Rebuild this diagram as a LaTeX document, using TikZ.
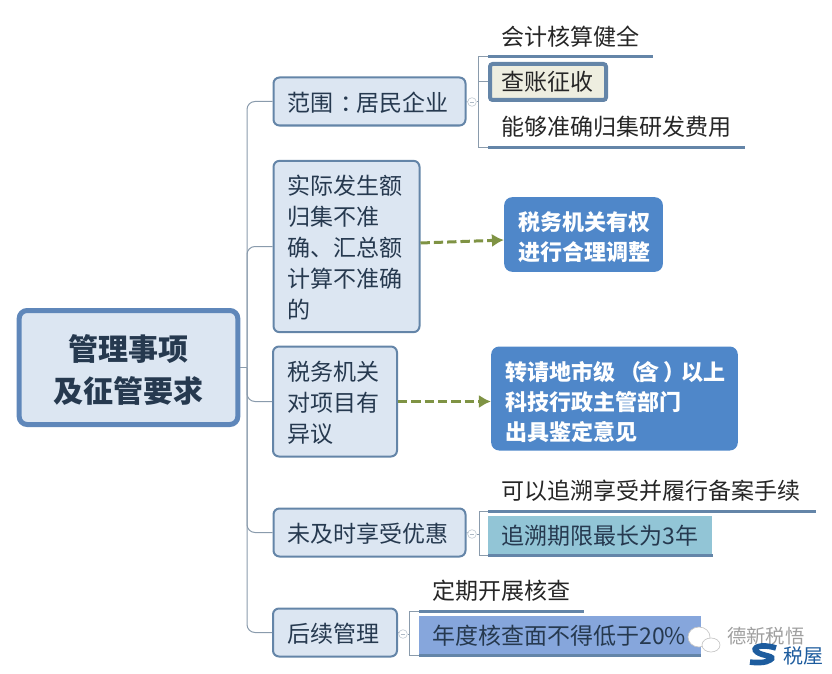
\documentclass[tikz,border=0pt]{standalone}
\usepackage{fontspec}
\setmainfont{Noto Sans CJK SC}
\usetikzlibrary{%
  arrows.meta,%
  positioning,%
  calc%
}
\definecolor{rulecol}{HTML}{6485A8}
\definecolor{rootcol}{HTML}{5F87BA}
\definecolor{topicfill}{HTML}{DCE6F2}
\definecolor{topictext}{HTML}{26394F}
\definecolor{notefill}{HTML}{4F87C9}
\definecolor{arrowcol}{HTML}{7F9344}
\definecolor{branchcol}{HTML}{8A9BAC}
\definecolor{logocol}{HTML}{1D5C9E}
\definecolor{checkfill}{HTML}{EEEEE0}
\definecolor{limitfill}{HTML}{92C5D6}
\definecolor{yearfill}{HTML}{86A6DC}

\begin{document}
\begin{tikzpicture}[
  x=0.75pt, y=-0.75pt, line cap=butt,
  every node/.style={font=\fontsize{17.25}{23.25}\selectfont, inner ysep=0pt},
  drop/.style={execute at begin node={\rule{0pt}{#1}}},
  rootbox/.style={draw=rootcol, line width=3.75pt, fill=topicfill, rounded corners=6pt, align=center,
    text width=140pt, inner xsep=12pt, minimum height=85.5pt, text=topictext, drop=22.8pt,
    font=\fontsize{22.5}{31.5}\selectfont\bfseries},
  topic/.style={draw=rulecol, line width=1.5pt, fill=topicfill, rounded corners=4.5pt, align=left,
    inner xsep=10.5pt, text=topictext, drop=16.7pt},
  notebox/.style={fill=notefill, rounded corners=6pt, align=left, inner xsep=10.5pt, text=white,
    font=\fontsize{16.5}{22.5}\selectfont\bfseries},
  leaf/.style={anchor=south west, inner xsep=9.75pt, align=left, minimum height=30pt, text=black!85},
  band/.style={anchor=north west, inner xsep=9.75pt, align=left, minimum height=29.25pt, text=topictext},
  rulel/.style={draw=rulecol, line width=2.25pt},
  branch/.style={draw=branchcol, line width=0.75pt},
  jump/.style={draw=arrowcol, line width=2.25pt, dash pattern=on 7pt off 3pt, -{Latex[length=9pt,width=10pt]}},
  fold/.style={circle, draw=branchcol!50, fill=white, minimum size=6.5pt, inner sep=0pt, line width=0.5pt,
    path picture={\draw[branchcol!70, line width=0.5pt] (-1.8pt,0) -- (1.8pt,0);}}
]
\useasboundingbox (0,0) rectangle (832,674);

\node[rootbox] (root) at (128.5,367.5) {管理事项\\及征管要求};

\node[topic, text width=123pt, minimum height=36pt] (scope) at (369.5,101.5) {范围\kern5pt：\kern-5pt居民企业};
  \node[leaf, text width=104pt] (audit) at (488,57) {会计核算健全};
  \node[anchor=north west, draw=rulecol, line width=3pt, fill=checkfill, rounded corners=2pt, inner xsep=8.25pt,
    text width=70.5pt, minimum height=27pt, text=black!85] (check) at (488,62) {查账征收};
  \node[leaf, text width=173pt] (collect) at (488,147) {能够准确归集研发费用};
\node[topic, text width=88.5pt, minimum height=128.5pt] (actual) at (346.5,246.5) {实际发生额\\归集不准\\确、汇总额\\计算不准确\\的};
  \node[notebox, text width=98pt, minimum height=56pt, drop=17.5pt] (adjust) at (583.5,234.5) {税务机关有权\\进行合理调整};
\node[topic, text width=72pt, minimum height=82.5pt] (doubt) at (335,401.5) {税务机关\\对项目有\\异议};
  \node[notebox, text width=164pt, minimum height=78pt, drop=19pt] (appraise) at (614.5,398.5) {转请地市级\kern3pt（\kern-3pt含\kern3pt）\kern-3pt以上\\科技行政主管部门\\出具鉴定意见};
\node[topic, text width=123pt, minimum height=36pt] (late) at (369.5,532.5) {未及时享受优惠};
  \node[leaf, text width=226pt] (trace) at (488,511) {可以追溯享受并履行备案手续};
  \node[band, fill=limitfill, text width=148.5pt] (limit) at (488,516) {追溯期限最长为3年};
\node[topic, text width=72pt, minimum height=36pt] (follow) at (335,632.5) {后续管理};
  \node[leaf, text width=104pt] (review) at (419,611) {定期开展核查};
  \node[band, fill=yearfill, text width=191.5pt] (yearly) at (419,616) {年度核查面不得低于20\%};

\node[fold] (fold1) at (472,102) {};
\node[fold] (fold2) at (472,534) {};
\node[fold] (fold3) at (403,634) {};

\coordinate (trunk) at (247,367.5);

\draw[branch] (root.east) -- (trunk);
\draw[branch, rounded corners=6pt] (trunk) |- (scope.west);
\draw[branch, rounded corners=6pt] (trunk) |- (actual.west);
\draw[branch, rounded corners=6pt] (trunk) |- (doubt.west);
\draw[branch, rounded corners=6pt] (trunk) |- (late.west);
\draw[branch, rounded corners=6pt] (trunk) |- (follow.west);

\draw[branch] (scope.east) -- (fold1);
\draw[branch] (late.east) -- (fold2);
\draw[branch] (follow.east) -- (fold3);

\draw[branch] (audit.south west) -- ++(-10,0) |- (collect.south west);
\draw[branch] (fold1) -- ++(6,0);
\draw[branch] (478,82) -- (check.west);
\draw[branch] (trace.south west) -- ++(-9,0) |- (limit.south west);
\draw[branch] (fold2) -- ++(7,0);
\draw[branch] (review.south west) -- ++(-10,0) |- (yearly.south west);
\draw[branch] (fold3) -- ++(6,0);

\draw[rulel] (audit.south west) -- (audit.south east);
\draw[rulel] (collect.south west) -- (collect.south east);
\draw[rulel] (trace.south west) -- (trace.south east);
\draw[rulel] (limit.south west) -- (limit.south east);
\draw[rulel] (review.south west) -- (review.south east);
\draw[rulel] (yearly.south west) -- (yearly.south east);

\draw[jump] (actual.east |- 0,243) -- (adjust.west |- 0,240);
\draw[jump] (doubt.east) -- (appraise.west |- doubt.east);

% watermark
\draw[gray!45, fill=white, line width=0.5pt] (699,637) ellipse (11 and 10);
\draw[gray!45, fill=white, line width=0.5pt] (711,645) ellipse (9 and 7);
\node[anchor=west, inner xsep=0pt, text=gray!75, font=\fontsize{14.5}{16}\selectfont] (mark) at (727,636) {德新税悟};
\node[anchor=west, inner xsep=0pt, text=logocol, font=\fontsize{15}{16}\selectfont] (house) at (783,656) {税屋};
\draw[logocol, line width=4.2pt] (776,648) .. controls (760,643) and (751,648) .. (757,652)
  .. controls (762,656) and (777,656) .. (770,660) .. controls (766,663) and (756,663) .. (750,662);
\end{tikzpicture}
\end{document}
